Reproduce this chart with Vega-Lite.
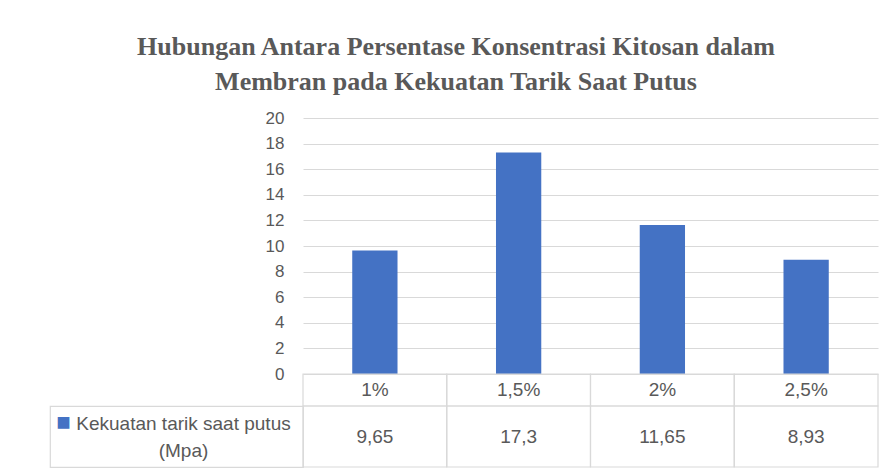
{
  "$schema": "https://vega.github.io/schema/vega-lite/v6.json",
  "background": "white",
  "padding": {"left": 49, "top": 34, "right": 11, "bottom": 6},
  "title": {
    "text": ["Hubungan Antara Persentase Konsentrasi Kitosan dalam", "Membran pada Kekuatan Tarik Saat Putus"],
    "font": "Liberation Serif",
    "fontSize": 26,
    "fontWeight": "bold",
    "color": "#595959",
    "anchor": "middle",
    "lineHeight": 35,
    "offset": 14,
    "dx": -8
  },
  "datasets": {
    "d": [
      {"konsentrasi": "1%", "kekuatan": 9.65},
      {"konsentrasi": "1,5%", "kekuatan": 17.3},
      {"konsentrasi": "2%", "kekuatan": 11.65},
      {"konsentrasi": "2,5%", "kekuatan": 8.93}
    ]
  },
  "columns": 2,
  "spacing": 0,
  "bounds": "flush",
  "align": "each",
  "config": {
    "view": {"stroke": null},
    "font": "Liberation Sans",
    "locale": {"number": {"decimal": ",", "thousands": ".", "grouping": [3], "currency": ["", ""]}}
  },
  "concat": [
    {
      "width": 253, "height": 256,
      "data": {"values": [{}]},
      "mark": {"type": "text"},
      "encoding": {"text": {"value": ""}}
    },
    {
      "width": 575, "height": 256,
      "data": {"name": "d"},
      "mark": {"type": "bar", "color": "#4472C4", "width": {"band": 0.315}},
      "encoding": {
        "x": {"field": "konsentrasi", "type": "nominal", "sort": null, "axis": null, "scale": {"paddingInner": 0, "paddingOuter": 0}},
        "y": {
          "field": "kekuatan", "type": "quantitative",
          "scale": {"domain": [0, 20]},
          "axis": {
            "title": null,
            "values": [0, 2, 4, 6, 8, 10, 12, 14, 16, 18, 20],
            "grid": true, "gridColor": "#d9d9d9", "gridWidth": 1.2,
            "domain": false, "ticks": false,
            "labelFontSize": 17, "labelColor": "#595959", "labelPadding": 19,
            "labelFont": "Liberation Sans"
          }
        }
      }
    },
    {
      "width": 253, "height": 32,
      "data": {"values": [{}]},
      "mark": {"type": "text"},
      "encoding": {"text": {"value": ""}}
    },
    {
      "width": 575, "height": 32,
      "data": {"name": "d"},
      "encoding": {
        "x": {"field": "konsentrasi", "type": "nominal", "sort": null, "axis": null, "scale": {"paddingInner": 0, "paddingOuter": 0}}
      },
      "layer": [
        {"mark": {"type": "rect", "fill": "transparent", "stroke": "#d9d9d9", "strokeWidth": 1.2}},
        {"mark": {"type": "text", "fontSize": 19, "color": "#595959"}, "encoding": {"text": {"field": "konsentrasi"}}}
      ]
    },
    {
      "width": 253, "height": 61,
      "view": {"stroke": "#d9d9d9", "strokeWidth": 1.2},
      "data": {"values": [{"seri": "Kekuatan tarik saat putus (Mpa)"}]},
      "layer": [
        {"mark": {"type": "text", "fontSize": 19, "color": "#595959", "align": "center", "baseline": "middle", "lineHeight": 27, "dx": 7, "dy": -12.5},
         "encoding": {"text": {"value": ["Kekuatan tarik saat putus", "(Mpa)"]}}},
        {"mark": {"type": "text", "fontSize": 24, "color": "#4472C4", "align": "center", "baseline": "middle", "dx": -113, "dy": -14},
         "encoding": {"text": {"value": "■"}}}
      ]
    },
    {
      "width": 575, "height": 61,
      "data": {"name": "d"},
      "encoding": {
        "x": {"field": "konsentrasi", "type": "nominal", "sort": null, "axis": null, "scale": {"paddingInner": 0, "paddingOuter": 0}}
      },
      "layer": [
        {"mark": {"type": "rect", "fill": "transparent", "stroke": "#d9d9d9", "strokeWidth": 1.2}},
        {"mark": {"type": "text", "fontSize": 19, "color": "#595959"}, "encoding": {"text": {"field": "kekuatan", "type": "quantitative", "format": ".4~g"}}}
      ]
    }
  ]
}
